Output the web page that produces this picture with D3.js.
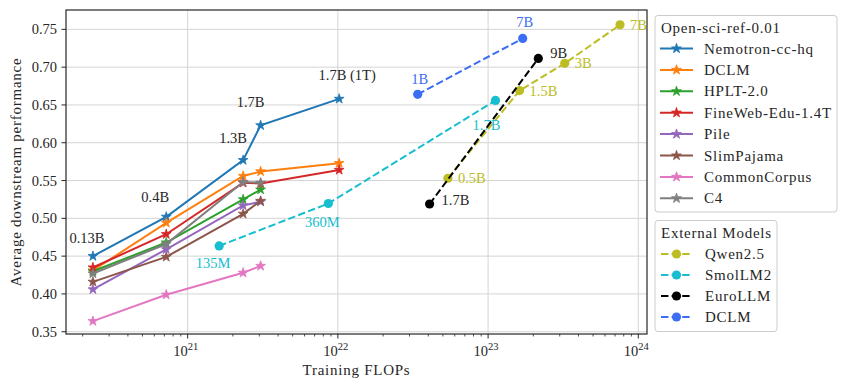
<!DOCTYPE html>
<html>
<head>
<meta charset="utf-8">
<script src="https://cdn.jsdelivr.net/npm/d3@7"></script>
<style>
  body { margin: 0; background: #fff; }
  svg text { font-family: "Liberation Serif", "Times New Roman", serif; fill: #262626; }
  svg text.wide { letter-spacing: 0.75px; }
</style>
</head>
<body>
<svg width="847" height="387"></svg>
<script>
// open-sci-ref models, FLOPs per size (300B tokens, last one 1T tokens)
const sizeLabels = ["0.13B", "0.4B", "1.3B", "1.7B", "1.7B (1T)"];
const refFlops = [2.34e20, 7.2e20, 2.34e21, 3.06e21, 1.02e22];

const nemotron = [0.450, 0.502, 0.577, 0.623, 0.658];
const dclm = [0.431, 0.494, 0.556, 0.562, 0.573];
const hplt = [0.430, 0.468, 0.525, 0.538];
const fineweb = [0.435, 0.479, 0.547, 0.546, 0.564];
const pile = [0.406, 0.459, 0.517, 0.522];
const slimpajama = [0.416, 0.449, 0.506, 0.523];
const commoncorpus = [0.364, 0.399, 0.428, 0.437];
const c4 = [0.427, 0.466, 0.548, 0.547];

const refNames = ["Nemotron-cc-hq", "DCLM", "HPLT-2.0", "FineWeb-Edu-1.4T", "Pile", "SlimPajama", "CommonCorpus", "C4"];
const refScores = [nemotron, dclm, hplt, fineweb, pile, slimpajama, commoncorpus, c4];
const refColors = ["#1f77b4", "#ff7f0e", "#2ca02c", "#d62728", "#9467bd", "#8c564b", "#e377c2", "#7f7f7f"];

// external models
const qwenLabels = ["0.5B", "1.5B", "3B", "7B"];
const qwenFlops = [5.4e22, 1.62e23, 3.24e23, 7.56e23];
const qwenScores = [0.553, 0.669, 0.705, 0.756];

const smolLabels = ["135M", "360M", "1.7B"];
const smolFlops = [1.62e21, 8.64e21, 1.12e23];
const smolScores = [0.4635, 0.5196, 0.656];

const euroLabels = ["1.7B", "9B"];
const euroFlops = [4.08e22, 2.16e23];
const euroScores = [0.519, 0.7115];

const dclmExtLabels = ["1B", "7B"];
const dclmExtFlops = [3.4e22, 1.7e23];
const dclmExtScores = [0.664, 0.738];

const yTicks = [0.35, 0.40, 0.45, 0.50, 0.55, 0.60, 0.65, 0.70, 0.75];
const xTicks = [1e21, 1e22, 1e23, 1e24];

const svg = d3.select("svg");
const pLeft = 66, pRight = 647, pTop = 10, pBottom = 334;

const x = d3.scaleLog().domain([Math.pow(10, 20.19), Math.pow(10, 24.058)]).range([pLeft, pRight]);
const y = d3.scaleLinear().domain([0.347, 0.7756]).range([pBottom, pTop]);

// grid
svg.append("g").selectAll("line").data(yTicks).enter().append("line")
    .attr("x1", pLeft).attr("x2", pRight)
    .attr("y1", d => y(d)).attr("y2", d => y(d))
    .attr("stroke", "#d4d4d4").attr("stroke-width", 1);
svg.append("g").selectAll("line").data(xTicks).enter().append("line")
    .attr("y1", pTop).attr("y2", pBottom)
    .attr("x1", d => x(d)).attr("x2", d => x(d))
    .attr("stroke", "#d4d4d4").attr("stroke-width", 1);

const line = d3.line().x(d => x(d[0])).y(d => y(d[1]));
const star = d3.symbol().type(d3.symbolStar).size(30);

// open-sci-ref series
refScores.forEach((scores, i) => {
    const pts = scores.map((v, j) => [refFlops[j], v]);
    const g = svg.append("g");
    g.append("path").datum(pts).attr("d", line)
        .attr("fill", "none").attr("stroke", refColors[i]).attr("stroke-width", 2);
    g.selectAll("path.m").data(pts).enter().append("path").attr("class", "m")
        .attr("d", star)
        .attr("transform", d => "translate(" + x(d[0]) + "," + y(d[1]) + ")")
        .attr("fill", refColors[i]).attr("stroke", refColors[i]).attr("stroke-width", 0.8);
});

// external series
const externals = [
    {name: "Qwen2.5", color: "#bcbd22", flops: qwenFlops, scores: qwenScores, labels: qwenLabels,
        off: [[10, 5], [10, 5], [10, 5], [10, 5]], anchor: "start"},
    {name: "SmolLM2", color: "#17becf", flops: smolFlops, scores: smolScores, labels: smolLabels,
        off: [[-6, 22], [-6, 23], [-9, 30]], anchor: "middle"},
    {name: "EuroLLM", color: "#000000", flops: euroFlops, scores: euroScores, labels: euroLabels,
        off: [[12, 1], [12, 0]], anchor: "start", textColor: "#262626"},
    {name: "DCLM", color: "#3b6ef5", flops: dclmExtFlops, scores: dclmExtScores, labels: dclmExtLabels,
        off: [[2, -10], [2, -11]], anchor: "middle"}
];

externals.forEach(s => {
    const pts = s.scores.map((v, j) => [s.flops[j], v]);
    const g = svg.append("g");
    g.append("path").datum(pts).attr("d", line)
        .attr("fill", "none").attr("stroke", s.color).attr("stroke-width", 2)
        .attr("stroke-dasharray", "7.4,3.2");
    g.selectAll("circle").data(pts).enter().append("circle")
        .attr("cx", d => x(d[0])).attr("cy", d => y(d[1])).attr("r", 4.6)
        .attr("fill", s.color);
    g.selectAll("text").data(pts).enter().append("text")
        .attr("x", (d, j) => x(d[0]) + s.off[j][0])
        .attr("y", (d, j) => y(d[1]) + s.off[j][1])
        .attr("text-anchor", s.anchor)
        .style("fill", s.textColor || s.color)
        .style("font-size", "14.5px")
        .text((d, j) => s.labels[j]);
});

// size labels above Nemotron line
const sizeOff = [[-6, -13], [-11, -15], [-10, -17], [-10, -18], [8, -19]];
svg.append("g").selectAll("text").data(nemotron).enter().append("text")
    .attr("x", (d, j) => x(refFlops[j]) + sizeOff[j][0])
    .attr("y", (d, j) => y(d) + sizeOff[j][1])
    .attr("text-anchor", "middle")
    .style("font-size", "14.5px")
    .text((d, j) => sizeLabels[j]);

// frame
svg.append("rect").attr("x", pLeft).attr("y", pTop)
    .attr("width", pRight - pLeft).attr("height", pBottom - pTop)
    .attr("fill", "none").attr("stroke", "#262626").attr("stroke-width", 1.2);

// y ticks
const yg = svg.append("g");
yg.selectAll("line").data(yTicks).enter().append("line")
    .attr("x1", pLeft - 4.5).attr("x2", pLeft)
    .attr("y1", d => y(d)).attr("y2", d => y(d))
    .attr("stroke", "#262626");
yg.selectAll("text").data(yTicks).enter().append("text")
    .attr("x", pLeft - 9).attr("y", d => y(d) + 5)
    .attr("text-anchor", "end").style("font-size", "14.5px")
    .text(d => d3.format(".2f")(d));

// x ticks, major and minor
const minor = [];
for (let e = 20; e <= 24; e++) {
    for (let m = 2; m <= 9; m++) {
        const v = m * Math.pow(10, e);
        if (v > x.domain()[0] && v < x.domain()[1]) minor.push(v);
    }
}
const xg = svg.append("g");
xg.selectAll("line.minor").data(minor).enter().append("line").attr("class", "minor")
    .attr("x1", d => x(d)).attr("x2", d => x(d))
    .attr("y1", pBottom).attr("y2", pBottom + 2.5)
    .attr("stroke", "#262626").attr("stroke-width", 0.8);
xg.selectAll("line.major").data(xTicks).enter().append("line").attr("class", "major")
    .attr("x1", d => x(d)).attr("x2", d => x(d))
    .attr("y1", pBottom).attr("y2", pBottom + 4.5)
    .attr("stroke", "#262626");
const xt = xg.selectAll("text").data(xTicks).enter().append("text")
    .attr("x", d => x(d) - 2).attr("y", pBottom + 22)
    .attr("text-anchor", "middle").style("font-size", "14.5px");
xt.append("tspan").text("10");
xt.append("tspan").attr("dy", -6).style("font-size", "10.5px")
    .text(d => Math.round(Math.log10(d)));

// axis titles
svg.append("text").attr("class", "wide").attr("x", (pLeft + pRight) / 2).attr("y", 375)
    .attr("text-anchor", "middle").style("font-size", "15px")
    .text("Training FLOPs");
svg.append("text").attr("class", "wide")
    .attr("transform", "translate(21," + ((pTop + pBottom) / 2) + ") rotate(-90)")
    .attr("text-anchor", "middle").style("font-size", "15px")
    .text("Average downstream performance");

// legend 1
const lg1 = svg.append("g");
lg1.append("rect").attr("x", 655).attr("y", 15.5).attr("width", 182).attr("height", 196.5)
    .attr("rx", 3).attr("fill", "#fff").attr("stroke", "#cccccc");
lg1.append("text").attr("class", "wide").attr("x", 661).attr("y", 33)
    .style("font-size", "15px").text("Open-sci-ref-0.01");
refNames.forEach((n, i) => {
    const cy = 48.5 + i * 21.4;
    lg1.append("line").attr("x1", 660).attr("x2", 693).attr("y1", cy).attr("y2", cy)
        .attr("stroke", refColors[i]).attr("stroke-width", 2);
    lg1.append("path").attr("d", star).attr("transform", "translate(676.5," + cy + ")")
        .attr("fill", refColors[i]).attr("stroke", refColors[i]).attr("stroke-width", 0.8);
    lg1.append("text").attr("class", "wide").attr("x", 704).attr("y", cy + 5)
        .style("font-size", "15px").text(n);
});

// legend 2
const lg2 = svg.append("g");
lg2.append("rect").attr("x", 655).attr("y", 220.5).attr("width", 122).attr("height", 111)
    .attr("rx", 3).attr("fill", "#fff").attr("stroke", "#cccccc");
lg2.append("text").attr("class", "wide").attr("x", 661).attr("y", 238)
    .style("font-size", "15px").text("External Models");
externals.forEach((s, i) => {
    const cy = 254 + i * 21;
    lg2.append("line").attr("x1", 661).attr("x2", 692).attr("y1", cy).attr("y2", cy)
        .attr("stroke", s.color).attr("stroke-width", 2).attr("stroke-dasharray", "7.4,3.2");
    lg2.append("circle").attr("cx", 676.5).attr("cy", cy).attr("r", 4.6).attr("fill", s.color);
    lg2.append("text").attr("class", "wide").attr("x", 705).attr("y", cy + 5)
        .style("font-size", "15px").text(s.name);
});
</script>
</body>
</html>
